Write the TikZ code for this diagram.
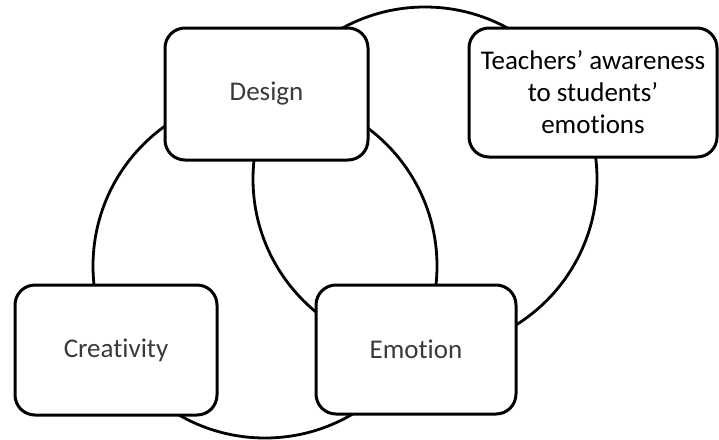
\documentclass[tikz,border=0pt]{standalone}
\usepackage{fontspec}
\setmainfont[Ligatures={NoCommon}]{Carlito}
\usepackage{tikz}
\usetikzlibrary{positioning}
\definecolor{labelgray}{HTML}{3A3A3A}

\tikzset{
  box/.style={draw, fill=white, line width=3pt, rounded corners=20pt,
    align=center, font=\fontsize{27}{32}\selectfont, text=labelgray},
  ring/.style={draw, line width=2.8pt}
}

\begin{document}
\begin{tikzpicture}[x=1pt,y=-1pt]
\useasboundingbox (0,0) rectangle (719,439);
% the two rings behind the boxes
\draw[ring] (265,266) circle[radius=172pt];
\draw[ring] (425,179) circle[radius=172pt];
% boxes
\node[box, minimum width=203pt, minimum height=132pt] (design) at (266.5,94) {Design};
\node[box, minimum width=202pt, minimum height=130pt] (creativity) at (116,350) {Creativity};
\node[box, minimum width=200pt, minimum height=129pt] (emotion) at (416,349.5) {Emotion};
\node[box, minimum width=248pt, minimum height=129pt, text=black] (awareness) at (593,92.5)
  {Teachers’ awareness\\ to students’\\ emotions};
\end{tikzpicture}
\end{document}
